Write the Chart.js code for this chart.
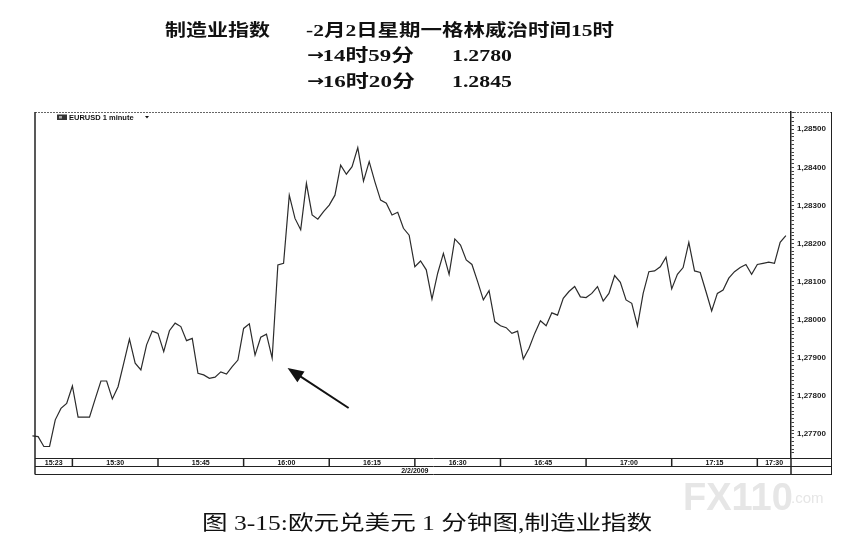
<!DOCTYPE html>
<html>
<head>
<meta charset="utf-8">
<script src="https://cdn.jsdelivr.net/npm/chart.js@4.4.1/dist/chart.umd.min.js"></script>
<style>
  html,body{margin:0;padding:0;background:#fff;}
  #wrap{position:relative;width:859px;height:548px;overflow:hidden;}
  #c{position:absolute;left:0;top:0;}
  .t{position:absolute;white-space:nowrap;line-height:1;color:#111;transform-origin:0 50%;
     font-family:"Liberation Serif","Noto Sans CJK SC",serif;font-weight:bold;}
  .ar{font-family:"DejaVu Sans",sans-serif;font-weight:bold;font-size:15px;position:relative;top:-1px;letter-spacing:-1px;}
  .cap{font-weight:normal;font-family:"Liberation Serif","Noto Sans CJK SC",serif;}
  .wm{position:absolute;white-space:nowrap;line-height:1;color:#e6e6e6;font-family:"Liberation Sans",sans-serif;}
</style>
</head>
<body>
<div id="wrap">
  <canvas id="c" width="859" height="548"></canvas>
  <div class="t" data-w="105" style="left:165px;top:22px;font-size:17px;">制造业指数</div>
  <div class="t" data-w="308" style="left:306px;top:22px;font-size:17px;">-2月2日星期一格林威治时间15时</div>
  <div class="t" data-w="107" style="left:307px;top:47px;font-size:17px;"><span class="ar">→</span>14时59分</div>
  <div class="t" data-w="60" style="left:452px;top:47px;font-size:17px;">1.2780</div>
  <div class="t" data-w="108" style="left:307px;top:73px;font-size:17px;"><span class="ar">→</span>16时20分</div>
  <div class="t" data-w="60" style="left:452px;top:73px;font-size:17px;">1.2845</div>
  <div class="t cap" data-w="450" style="left:202px;top:513px;font-size:20px;">图 3-15:欧元兑美元 1 分钟图,制造业指数</div>
  <div class="wm" style="left:683px;top:478px;font-size:38px;font-weight:bold;">FX110</div>
  <div class="wm" style="left:791px;top:490px;font-size:15px;">.com</div>
</div>
<script>
// ---- data (one point per minute, starting 15:23) ----
const startTime = "15:23";
const prices = [
  1.27695, 1.27693, 1.27667, 1.27667, 1.27737, 1.27767, 1.27780, 1.27826, 1.27744, 1.27744,
  1.27744, 1.27792, 1.27839, 1.27839, 1.27792, 1.27824, 1.27886, 1.27949, 1.27886, 1.27868,
  1.27934, 1.27970, 1.27964, 1.27916, 1.27971, 1.27991, 1.27982, 1.27945, 1.27951, 1.27859,
  1.27855, 1.27846, 1.27849, 1.27863, 1.27857, 1.27877, 1.27894, 1.27977, 1.27989, 1.27907,
  1.27954, 1.27962, 1.27899, 1.28144, 1.28148, 1.28327, 1.28266, 1.28236, 1.28358, 1.28275,
  1.28264, 1.28284, 1.28301, 1.28327, 1.28406, 1.28382, 1.28402, 1.28452, 1.28364, 1.28415,
  1.28362, 1.28314, 1.28306, 1.28275, 1.28282, 1.28240, 1.28222, 1.28139, 1.28154, 1.28131,
  1.28054, 1.28122, 1.28174, 1.28119, 1.28212, 1.28196, 1.28157, 1.28145, 1.28100, 1.28052,
  1.28076, 1.27995, 1.27984, 1.27979, 1.27964, 1.27970, 1.27897, 1.27925, 1.27964, 1.27997,
  1.27984, 1.28018, 1.28012, 1.28056, 1.28074, 1.28087, 1.28060, 1.28058, 1.28069, 1.28087,
  1.28049, 1.28069, 1.28116, 1.28098, 1.28052, 1.28043, 1.27984, 1.28069, 1.28126, 1.28128,
  1.28139, 1.28164, 1.28081, 1.28119, 1.28137, 1.28203, 1.28128, 1.28124, 1.28074, 1.28023,
  1.28069, 1.28078, 1.28109, 1.28126, 1.28137, 1.28145, 1.28119, 1.28145, 1.28148, 1.28151,
  1.28148, 1.28203, 1.28221
];
// time axis: boundaries (minutes after 15:23) and the labels of the intervals between them
const boundaryMinutes = [7, 22, 37, 52, 67, 82, 97, 112, 127];
const intervalLabels = ["15:23","15:30","15:45","16:00","16:15","16:30","16:45","17:00","17:15","17:30"];
const dateLabel = "2/2/2009";
const dateAtMinute = 67;
const yMin = 1.276368, yMax = 1.285454;
const majorStep = 0.001, minorStep = 0.0001;
const legendText = "EURUSD 1 minute";
// annotation arrow (data units: minute, price)
const arrowTail = {m: 55.4, v: 1.27768};
const arrowTip  = {m: 44.7, v: 1.27873};

const points = prices.map((p, i) => ({x: i, y: p}));

function line(ctx, x1, y1, x2, y2){ ctx.beginPath(); ctx.moveTo(x1,y1); ctx.lineTo(x2,y2); ctx.stroke(); }

const framePlugin = {
  id: 'frame',
  afterDraw(chart){
    const ctx = chart.ctx, a = chart.chartArea, xs = chart.scales.x, ys = chart.scales.y;
    const right = ys.right;
    const b1 = a.bottom, b2 = a.bottom + 8, b3 = a.bottom + 16;
    ctx.save();
    // top dotted border
    ctx.strokeStyle = '#666'; ctx.lineWidth = 1; ctx.setLineDash([2,1]);
    line(ctx, a.left, a.top + 0.5, right, a.top + 0.5);
    ctx.setLineDash([]);
    ctx.strokeStyle = '#222';
    ctx.lineWidth = 1.5;
    line(ctx, a.left, a.top, a.left, b3 + 0.5);
    ctx.lineWidth = 1;
    line(ctx, right - 0.5, a.top, right - 0.5, b3 + 1);
    [b1, b2, b3].forEach(yy => line(ctx, a.left, yy + 0.5, right, yy + 0.5));
    ctx.lineWidth = 1.5;
    line(ctx, a.right, b1, a.right, b3);
    boundaryMinutes.forEach(m => { const px = xs.getPixelForValue(m); line(ctx, px, b1, px, b2 + 0.5); });
    // interval labels
    ctx.fillStyle = '#111';
    ctx.font = 'bold 7px "Liberation Sans"';
    ctx.textAlign = 'center'; ctx.textBaseline = 'middle';
    const edges = [xs.min].concat(boundaryMinutes, [xs.max]);
    intervalLabels.forEach((lab, i) => {
      const px = (xs.getPixelForValue(edges[i]) + xs.getPixelForValue(edges[i+1])) / 2;
      ctx.fillText(lab, px, (b1 + b2) / 2 + 1);
    });
    ctx.fillText(dateLabel, xs.getPixelForValue(dateAtMinute), (b2 + b3) / 2 + 1);
    // legend (top-left)
    const lx = a.left + 22, ly = a.top + 5;
    ctx.fillStyle = '#333';
    ctx.fillRect(lx, ly - 2.5, 10, 5.5);
    ctx.fillStyle = '#aaa';
    ctx.fillRect(lx + 2, ly - 1, 3, 2.5);
    ctx.fillStyle = '#111';
    ctx.textAlign = 'left';
    ctx.font = 'bold 7.5px "Liberation Sans"';
    ctx.fillText(legendText, lx + 12, ly + 0.5);
    ctx.beginPath();
    ctx.moveTo(lx + 88, ly - 1); ctx.lineTo(lx + 92, ly - 1); ctx.lineTo(lx + 90, ly + 1.5); ctx.closePath(); ctx.fill();
    // arrow annotation
    const p0 = {x: xs.getPixelForValue(arrowTail.m), y: ys.getPixelForValue(arrowTail.v)};
    const p1 = {x: xs.getPixelForValue(arrowTip.m), y: ys.getPixelForValue(arrowTip.v)};
    const ang = Math.atan2(p1.y - p0.y, p1.x - p0.x);
    const hl = 16, hw = 6.5;
    const bx = p1.x - hl * Math.cos(ang), by = p1.y - hl * Math.sin(ang);
    ctx.strokeStyle = '#111'; ctx.lineWidth = 2;
    line(ctx, p0.x, p0.y, bx + 3*Math.cos(ang), by + 3*Math.sin(ang));
    ctx.fillStyle = '#111';
    ctx.beginPath();
    ctx.moveTo(p1.x, p1.y);
    ctx.lineTo(bx + hw * Math.sin(ang), by - hw * Math.cos(ang));
    ctx.lineTo(bx - hw * Math.sin(ang), by + hw * Math.cos(ang));
    ctx.closePath(); ctx.fill();
    ctx.restore();
  }
};

new Chart(document.getElementById('c'), {
  type: 'line',
  data: { datasets: [{ data: points, borderColor: '#2b2b2b', borderWidth: 1.2, pointRadius: 0, tension: 0, clip: 4, fill: false }] },
  options: {
    responsive: false, animation: false, events: [],
    layout: { padding: { left: 35, top: 112, right: 27, bottom: 90 } },
    plugins: { legend: { display: false }, tooltip: { enabled: false }, title: { display: false } },
    scales: {
      x: { type: 'linear', display: false, min: 0.45, max: 132.9 },
      y: {
        position: 'right', min: yMin, max: yMax,
        ticks: {
          stepSize: minorStep, autoSkip: false, maxRotation: 0, padding: 3, color: '#222',
          font: { size: 8, family: 'Liberation Sans', weight: 'bold' },
          callback: (v) => {
            const k = Math.round(v / majorStep);
            if (Math.abs(v / majorStep - k) < 1e-4) return (k * majorStep).toFixed(5).replace('.', ',');
            return '';
          }
        },
        grid: { drawOnChartArea: false, drawTicks: true, tickLength: 3, color: '#444', lineWidth: 1 },
        border: { display: true, color: '#222', width: 1.5 },
        afterFit: (s) => { s.width = 41; }
      }
    }
  },
  plugins: [framePlugin]
});

// stretch text blocks horizontally to the widths measured on the reference
document.querySelectorAll('.t').forEach(el => {
  const w = parseFloat(el.dataset.w);
  const cur = el.getBoundingClientRect().width;
  if (cur > 0) el.style.transform = 'scaleX(' + (w / cur).toFixed(3) + ')';
});
</script>
</body>
</html>
